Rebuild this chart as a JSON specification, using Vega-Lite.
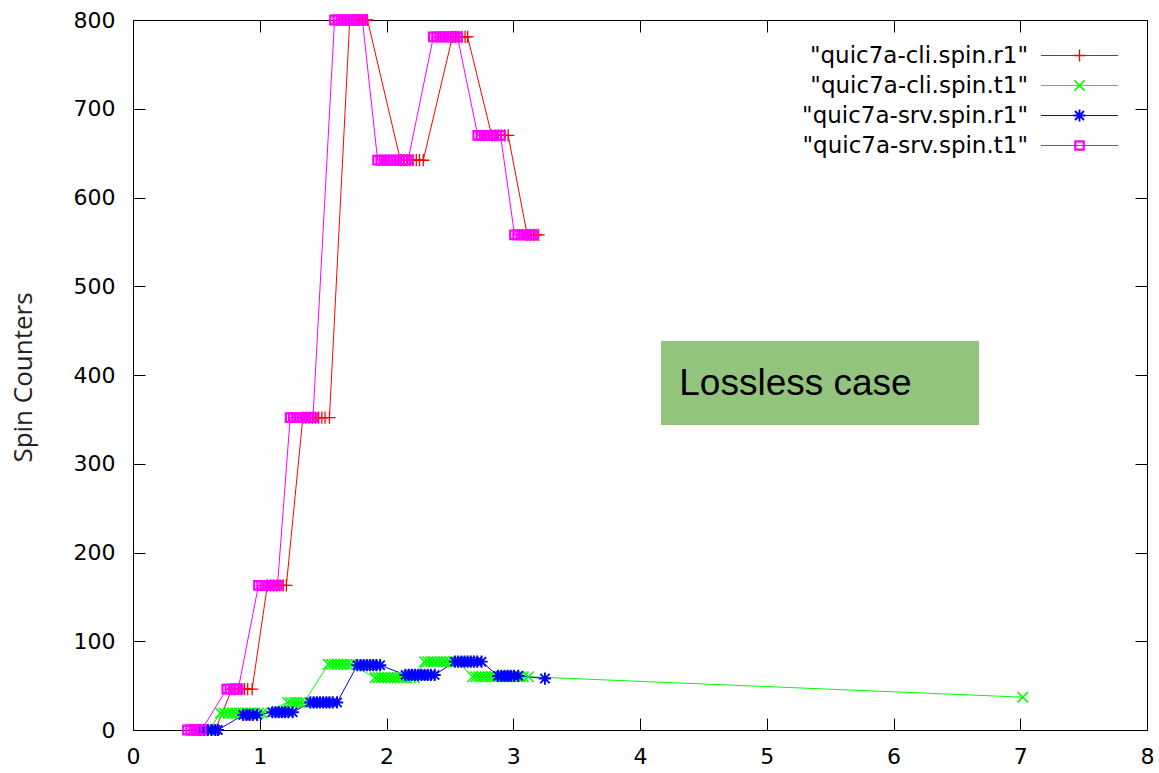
{
  "$schema": "https://vega.github.io/schema/vega-lite/v6.json",
  "autosize": "none",
  "width": 1014,
  "height": 710,
  "padding": {"left": 133, "top": 20, "right": 12, "bottom": 43},
  "background": "white",
  "datasets": {
    "note": [{"label": "Lossless case", "x0": 4.166, "x1": 6.675, "y0": 343.7, "y1": 438.3, "tx": 4.31, "ty": 377}],
    "spin": [
      {"series": "quic7a-cli.spin.r1", "x": 0.49, "y": 0},
      {"series": "quic7a-cli.spin.r1", "x": 0.515, "y": 0},
      {"series": "quic7a-cli.spin.r1", "x": 0.54, "y": 0},
      {"series": "quic7a-cli.spin.r1", "x": 0.565, "y": 0},
      {"series": "quic7a-cli.spin.r1", "x": 0.59, "y": 0},
      {"series": "quic7a-cli.spin.r1", "x": 0.615, "y": 0},
      {"series": "quic7a-cli.spin.r1", "x": 0.65, "y": 0},
      {"series": "quic7a-cli.spin.r1", "x": 0.78, "y": 46},
      {"series": "quic7a-cli.spin.r1", "x": 0.805, "y": 46},
      {"series": "quic7a-cli.spin.r1", "x": 0.83, "y": 46},
      {"series": "quic7a-cli.spin.r1", "x": 0.855, "y": 46},
      {"series": "quic7a-cli.spin.r1", "x": 0.88, "y": 46},
      {"series": "quic7a-cli.spin.r1", "x": 0.905, "y": 46},
      {"series": "quic7a-cli.spin.r1", "x": 0.94, "y": 46},
      {"series": "quic7a-cli.spin.r1", "x": 1.06, "y": 163},
      {"series": "quic7a-cli.spin.r1", "x": 1.085, "y": 163},
      {"series": "quic7a-cli.spin.r1", "x": 1.11, "y": 163},
      {"series": "quic7a-cli.spin.r1", "x": 1.135, "y": 163},
      {"series": "quic7a-cli.spin.r1", "x": 1.16, "y": 163},
      {"series": "quic7a-cli.spin.r1", "x": 1.185, "y": 163},
      {"series": "quic7a-cli.spin.r1", "x": 1.21, "y": 163},
      {"series": "quic7a-cli.spin.r1", "x": 1.34, "y": 352},
      {"series": "quic7a-cli.spin.r1", "x": 1.365, "y": 352},
      {"series": "quic7a-cli.spin.r1", "x": 1.39, "y": 352},
      {"series": "quic7a-cli.spin.r1", "x": 1.415, "y": 352},
      {"series": "quic7a-cli.spin.r1", "x": 1.44, "y": 352},
      {"series": "quic7a-cli.spin.r1", "x": 1.465, "y": 352},
      {"series": "quic7a-cli.spin.r1", "x": 1.49, "y": 352},
      {"series": "quic7a-cli.spin.r1", "x": 1.515, "y": 352},
      {"series": "quic7a-cli.spin.r1", "x": 1.55, "y": 352},
      {"series": "quic7a-cli.spin.r1", "x": 1.71, "y": 800},
      {"series": "quic7a-cli.spin.r1", "x": 1.735, "y": 800},
      {"series": "quic7a-cli.spin.r1", "x": 1.76, "y": 800},
      {"series": "quic7a-cli.spin.r1", "x": 1.785, "y": 800},
      {"series": "quic7a-cli.spin.r1", "x": 1.81, "y": 800},
      {"series": "quic7a-cli.spin.r1", "x": 1.835, "y": 800},
      {"series": "quic7a-cli.spin.r1", "x": 1.85, "y": 800},
      {"series": "quic7a-cli.spin.r1", "x": 2.11, "y": 642},
      {"series": "quic7a-cli.spin.r1", "x": 2.135, "y": 642},
      {"series": "quic7a-cli.spin.r1", "x": 2.16, "y": 642},
      {"series": "quic7a-cli.spin.r1", "x": 2.185, "y": 642},
      {"series": "quic7a-cli.spin.r1", "x": 2.21, "y": 642},
      {"series": "quic7a-cli.spin.r1", "x": 2.235, "y": 642},
      {"series": "quic7a-cli.spin.r1", "x": 2.26, "y": 642},
      {"series": "quic7a-cli.spin.r1", "x": 2.29, "y": 642},
      {"series": "quic7a-cli.spin.r1", "x": 2.52, "y": 781},
      {"series": "quic7a-cli.spin.r1", "x": 2.545, "y": 781},
      {"series": "quic7a-cli.spin.r1", "x": 2.57, "y": 781},
      {"series": "quic7a-cli.spin.r1", "x": 2.595, "y": 781},
      {"series": "quic7a-cli.spin.r1", "x": 2.62, "y": 781},
      {"series": "quic7a-cli.spin.r1", "x": 2.64, "y": 781},
      {"series": "quic7a-cli.spin.r1", "x": 2.83, "y": 670},
      {"series": "quic7a-cli.spin.r1", "x": 2.855, "y": 670},
      {"series": "quic7a-cli.spin.r1", "x": 2.88, "y": 670},
      {"series": "quic7a-cli.spin.r1", "x": 2.905, "y": 670},
      {"series": "quic7a-cli.spin.r1", "x": 2.93, "y": 670},
      {"series": "quic7a-cli.spin.r1", "x": 2.96, "y": 670},
      {"series": "quic7a-cli.spin.r1", "x": 3.11, "y": 558},
      {"series": "quic7a-cli.spin.r1", "x": 3.135, "y": 558},
      {"series": "quic7a-cli.spin.r1", "x": 3.16, "y": 558},
      {"series": "quic7a-cli.spin.r1", "x": 3.18, "y": 558},
      {"series": "quic7a-cli.spin.r1", "x": 3.2, "y": 558},

      {"series": "quic7a-cli.spin.t1", "x": 0.55, "y": 0},
      {"series": "quic7a-cli.spin.t1", "x": 0.575, "y": 0},
      {"series": "quic7a-cli.spin.t1", "x": 0.6, "y": 0},
      {"series": "quic7a-cli.spin.t1", "x": 0.69, "y": 19},
      {"series": "quic7a-cli.spin.t1", "x": 0.72, "y": 19},
      {"series": "quic7a-cli.spin.t1", "x": 0.75, "y": 19},
      {"series": "quic7a-cli.spin.t1", "x": 0.78, "y": 19},
      {"series": "quic7a-cli.spin.t1", "x": 0.81, "y": 19},
      {"series": "quic7a-cli.spin.t1", "x": 0.84, "y": 19},
      {"series": "quic7a-cli.spin.t1", "x": 0.87, "y": 19},
      {"series": "quic7a-cli.spin.t1", "x": 0.9, "y": 19},
      {"series": "quic7a-cli.spin.t1", "x": 0.93, "y": 19},
      {"series": "quic7a-cli.spin.t1", "x": 0.96, "y": 19},
      {"series": "quic7a-cli.spin.t1", "x": 0.99, "y": 19},
      {"series": "quic7a-cli.spin.t1", "x": 1.02, "y": 19},
      {"series": "quic7a-cli.spin.t1", "x": 1.22, "y": 31},
      {"series": "quic7a-cli.spin.t1", "x": 1.245, "y": 31},
      {"series": "quic7a-cli.spin.t1", "x": 1.27, "y": 31},
      {"series": "quic7a-cli.spin.t1", "x": 1.295, "y": 31},
      {"series": "quic7a-cli.spin.t1", "x": 1.32, "y": 31},
      {"series": "quic7a-cli.spin.t1", "x": 1.35, "y": 31},
      {"series": "quic7a-cli.spin.t1", "x": 1.54, "y": 74},
      {"series": "quic7a-cli.spin.t1", "x": 1.565, "y": 74},
      {"series": "quic7a-cli.spin.t1", "x": 1.59, "y": 74},
      {"series": "quic7a-cli.spin.t1", "x": 1.615, "y": 74},
      {"series": "quic7a-cli.spin.t1", "x": 1.64, "y": 74},
      {"series": "quic7a-cli.spin.t1", "x": 1.665, "y": 74},
      {"series": "quic7a-cli.spin.t1", "x": 1.69, "y": 74},
      {"series": "quic7a-cli.spin.t1", "x": 1.72, "y": 74},
      {"series": "quic7a-cli.spin.t1", "x": 1.91, "y": 59},
      {"series": "quic7a-cli.spin.t1", "x": 1.935, "y": 59},
      {"series": "quic7a-cli.spin.t1", "x": 1.96, "y": 59},
      {"series": "quic7a-cli.spin.t1", "x": 1.985, "y": 59},
      {"series": "quic7a-cli.spin.t1", "x": 2.01, "y": 59},
      {"series": "quic7a-cli.spin.t1", "x": 2.035, "y": 59},
      {"series": "quic7a-cli.spin.t1", "x": 2.06, "y": 59},
      {"series": "quic7a-cli.spin.t1", "x": 2.085, "y": 59},
      {"series": "quic7a-cli.spin.t1", "x": 2.11, "y": 59},
      {"series": "quic7a-cli.spin.t1", "x": 2.135, "y": 59},
      {"series": "quic7a-cli.spin.t1", "x": 2.16, "y": 59},
      {"series": "quic7a-cli.spin.t1", "x": 2.19, "y": 59},
      {"series": "quic7a-cli.spin.t1", "x": 2.22, "y": 59},
      {"series": "quic7a-cli.spin.t1", "x": 2.3, "y": 77},
      {"series": "quic7a-cli.spin.t1", "x": 2.325, "y": 77},
      {"series": "quic7a-cli.spin.t1", "x": 2.35, "y": 77},
      {"series": "quic7a-cli.spin.t1", "x": 2.375, "y": 77},
      {"series": "quic7a-cli.spin.t1", "x": 2.4, "y": 77},
      {"series": "quic7a-cli.spin.t1", "x": 2.425, "y": 77},
      {"series": "quic7a-cli.spin.t1", "x": 2.45, "y": 77},
      {"series": "quic7a-cli.spin.t1", "x": 2.475, "y": 77},
      {"series": "quic7a-cli.spin.t1", "x": 2.5, "y": 77},
      {"series": "quic7a-cli.spin.t1", "x": 2.53, "y": 77},
      {"series": "quic7a-cli.spin.t1", "x": 2.56, "y": 77},
      {"series": "quic7a-cli.spin.t1", "x": 2.68, "y": 60},
      {"series": "quic7a-cli.spin.t1", "x": 2.705, "y": 60},
      {"series": "quic7a-cli.spin.t1", "x": 2.73, "y": 60},
      {"series": "quic7a-cli.spin.t1", "x": 2.755, "y": 60},
      {"series": "quic7a-cli.spin.t1", "x": 2.78, "y": 60},
      {"series": "quic7a-cli.spin.t1", "x": 2.805, "y": 60},
      {"series": "quic7a-cli.spin.t1", "x": 2.83, "y": 60},
      {"series": "quic7a-cli.spin.t1", "x": 2.855, "y": 60},
      {"series": "quic7a-cli.spin.t1", "x": 2.88, "y": 60},
      {"series": "quic7a-cli.spin.t1", "x": 2.905, "y": 60},
      {"series": "quic7a-cli.spin.t1", "x": 2.93, "y": 60},
      {"series": "quic7a-cli.spin.t1", "x": 2.955, "y": 60},
      {"series": "quic7a-cli.spin.t1", "x": 2.98, "y": 60},
      {"series": "quic7a-cli.spin.t1", "x": 3.005, "y": 60},
      {"series": "quic7a-cli.spin.t1", "x": 3.03, "y": 60},
      {"series": "quic7a-cli.spin.t1", "x": 3.055, "y": 60},
      {"series": "quic7a-cli.spin.t1", "x": 3.08, "y": 60},
      {"series": "quic7a-cli.spin.t1", "x": 3.12, "y": 60},
      {"series": "quic7a-cli.spin.t1", "x": 7.02, "y": 37},

      {"series": "quic7a-srv.spin.r1", "x": 0.53, "y": 0},
      {"series": "quic7a-srv.spin.r1", "x": 0.56, "y": 0},
      {"series": "quic7a-srv.spin.r1", "x": 0.59, "y": 0},
      {"series": "quic7a-srv.spin.r1", "x": 0.62, "y": 0},
      {"series": "quic7a-srv.spin.r1", "x": 0.65, "y": 0},
      {"series": "quic7a-srv.spin.r1", "x": 0.67, "y": 0},
      {"series": "quic7a-srv.spin.r1", "x": 0.87, "y": 17},
      {"series": "quic7a-srv.spin.r1", "x": 0.895, "y": 17},
      {"series": "quic7a-srv.spin.r1", "x": 0.92, "y": 17},
      {"series": "quic7a-srv.spin.r1", "x": 0.945, "y": 17},
      {"series": "quic7a-srv.spin.r1", "x": 0.98, "y": 17},
      {"series": "quic7a-srv.spin.r1", "x": 1.1, "y": 20},
      {"series": "quic7a-srv.spin.r1", "x": 1.125, "y": 20},
      {"series": "quic7a-srv.spin.r1", "x": 1.15, "y": 20},
      {"series": "quic7a-srv.spin.r1", "x": 1.175, "y": 20},
      {"series": "quic7a-srv.spin.r1", "x": 1.2, "y": 20},
      {"series": "quic7a-srv.spin.r1", "x": 1.225, "y": 20},
      {"series": "quic7a-srv.spin.r1", "x": 1.26, "y": 20},
      {"series": "quic7a-srv.spin.r1", "x": 1.4, "y": 31},
      {"series": "quic7a-srv.spin.r1", "x": 1.425, "y": 31},
      {"series": "quic7a-srv.spin.r1", "x": 1.45, "y": 31},
      {"series": "quic7a-srv.spin.r1", "x": 1.475, "y": 31},
      {"series": "quic7a-srv.spin.r1", "x": 1.5, "y": 31},
      {"series": "quic7a-srv.spin.r1", "x": 1.525, "y": 31},
      {"series": "quic7a-srv.spin.r1", "x": 1.55, "y": 31},
      {"series": "quic7a-srv.spin.r1", "x": 1.575, "y": 31},
      {"series": "quic7a-srv.spin.r1", "x": 1.61, "y": 31},
      {"series": "quic7a-srv.spin.r1", "x": 1.77, "y": 73},
      {"series": "quic7a-srv.spin.r1", "x": 1.795, "y": 73},
      {"series": "quic7a-srv.spin.r1", "x": 1.82, "y": 73},
      {"series": "quic7a-srv.spin.r1", "x": 1.845, "y": 73},
      {"series": "quic7a-srv.spin.r1", "x": 1.87, "y": 73},
      {"series": "quic7a-srv.spin.r1", "x": 1.895, "y": 73},
      {"series": "quic7a-srv.spin.r1", "x": 1.92, "y": 73},
      {"series": "quic7a-srv.spin.r1", "x": 1.95, "y": 73},
      {"series": "quic7a-srv.spin.r1", "x": 2.15, "y": 62},
      {"series": "quic7a-srv.spin.r1", "x": 2.175, "y": 62},
      {"series": "quic7a-srv.spin.r1", "x": 2.2, "y": 62},
      {"series": "quic7a-srv.spin.r1", "x": 2.225, "y": 62},
      {"series": "quic7a-srv.spin.r1", "x": 2.25, "y": 62},
      {"series": "quic7a-srv.spin.r1", "x": 2.275, "y": 62},
      {"series": "quic7a-srv.spin.r1", "x": 2.3, "y": 62},
      {"series": "quic7a-srv.spin.r1", "x": 2.325, "y": 62},
      {"series": "quic7a-srv.spin.r1", "x": 2.35, "y": 62},
      {"series": "quic7a-srv.spin.r1", "x": 2.38, "y": 62},
      {"series": "quic7a-srv.spin.r1", "x": 2.54, "y": 77},
      {"series": "quic7a-srv.spin.r1", "x": 2.565, "y": 77},
      {"series": "quic7a-srv.spin.r1", "x": 2.59, "y": 77},
      {"series": "quic7a-srv.spin.r1", "x": 2.615, "y": 77},
      {"series": "quic7a-srv.spin.r1", "x": 2.64, "y": 77},
      {"series": "quic7a-srv.spin.r1", "x": 2.665, "y": 77},
      {"series": "quic7a-srv.spin.r1", "x": 2.69, "y": 77},
      {"series": "quic7a-srv.spin.r1", "x": 2.715, "y": 77},
      {"series": "quic7a-srv.spin.r1", "x": 2.75, "y": 77},
      {"series": "quic7a-srv.spin.r1", "x": 2.88, "y": 61},
      {"series": "quic7a-srv.spin.r1", "x": 2.905, "y": 61},
      {"series": "quic7a-srv.spin.r1", "x": 2.93, "y": 61},
      {"series": "quic7a-srv.spin.r1", "x": 2.955, "y": 61},
      {"series": "quic7a-srv.spin.r1", "x": 2.98, "y": 61},
      {"series": "quic7a-srv.spin.r1", "x": 3.005, "y": 61},
      {"series": "quic7a-srv.spin.r1", "x": 3.04, "y": 61},
      {"series": "quic7a-srv.spin.r1", "x": 3.25, "y": 58},

      {"series": "quic7a-srv.spin.t1", "x": 0.43, "y": 0},
      {"series": "quic7a-srv.spin.t1", "x": 0.455, "y": 0},
      {"series": "quic7a-srv.spin.t1", "x": 0.48, "y": 0},
      {"series": "quic7a-srv.spin.t1", "x": 0.505, "y": 0},
      {"series": "quic7a-srv.spin.t1", "x": 0.54, "y": 0},
      {"series": "quic7a-srv.spin.t1", "x": 0.74, "y": 46},
      {"series": "quic7a-srv.spin.t1", "x": 0.765, "y": 46},
      {"series": "quic7a-srv.spin.t1", "x": 0.79, "y": 46},
      {"series": "quic7a-srv.spin.t1", "x": 0.81, "y": 46},
      {"series": "quic7a-srv.spin.t1", "x": 0.83, "y": 46},
      {"series": "quic7a-srv.spin.t1", "x": 0.99, "y": 163},
      {"series": "quic7a-srv.spin.t1", "x": 1.015, "y": 163},
      {"series": "quic7a-srv.spin.t1", "x": 1.04, "y": 163},
      {"series": "quic7a-srv.spin.t1", "x": 1.065, "y": 163},
      {"series": "quic7a-srv.spin.t1", "x": 1.09, "y": 163},
      {"series": "quic7a-srv.spin.t1", "x": 1.115, "y": 163},
      {"series": "quic7a-srv.spin.t1", "x": 1.14, "y": 163},
      {"series": "quic7a-srv.spin.t1", "x": 1.24, "y": 352},
      {"series": "quic7a-srv.spin.t1", "x": 1.265, "y": 352},
      {"series": "quic7a-srv.spin.t1", "x": 1.29, "y": 352},
      {"series": "quic7a-srv.spin.t1", "x": 1.315, "y": 352},
      {"series": "quic7a-srv.spin.t1", "x": 1.34, "y": 352},
      {"series": "quic7a-srv.spin.t1", "x": 1.365, "y": 352},
      {"series": "quic7a-srv.spin.t1", "x": 1.39, "y": 352},
      {"series": "quic7a-srv.spin.t1", "x": 1.42, "y": 352},
      {"series": "quic7a-srv.spin.t1", "x": 1.59, "y": 800},
      {"series": "quic7a-srv.spin.t1", "x": 1.615, "y": 800},
      {"series": "quic7a-srv.spin.t1", "x": 1.64, "y": 800},
      {"series": "quic7a-srv.spin.t1", "x": 1.665, "y": 800},
      {"series": "quic7a-srv.spin.t1", "x": 1.69, "y": 800},
      {"series": "quic7a-srv.spin.t1", "x": 1.715, "y": 800},
      {"series": "quic7a-srv.spin.t1", "x": 1.74, "y": 800},
      {"series": "quic7a-srv.spin.t1", "x": 1.765, "y": 800},
      {"series": "quic7a-srv.spin.t1", "x": 1.79, "y": 800},
      {"series": "quic7a-srv.spin.t1", "x": 1.81, "y": 800},
      {"series": "quic7a-srv.spin.t1", "x": 1.93, "y": 642},
      {"series": "quic7a-srv.spin.t1", "x": 1.955, "y": 642},
      {"series": "quic7a-srv.spin.t1", "x": 1.98, "y": 642},
      {"series": "quic7a-srv.spin.t1", "x": 2.005, "y": 642},
      {"series": "quic7a-srv.spin.t1", "x": 2.03, "y": 642},
      {"series": "quic7a-srv.spin.t1", "x": 2.055, "y": 642},
      {"series": "quic7a-srv.spin.t1", "x": 2.08, "y": 642},
      {"series": "quic7a-srv.spin.t1", "x": 2.105, "y": 642},
      {"series": "quic7a-srv.spin.t1", "x": 2.13, "y": 642},
      {"series": "quic7a-srv.spin.t1", "x": 2.15, "y": 642},
      {"series": "quic7a-srv.spin.t1", "x": 2.17, "y": 642},
      {"series": "quic7a-srv.spin.t1", "x": 2.37, "y": 781},
      {"series": "quic7a-srv.spin.t1", "x": 2.395, "y": 781},
      {"series": "quic7a-srv.spin.t1", "x": 2.42, "y": 781},
      {"series": "quic7a-srv.spin.t1", "x": 2.445, "y": 781},
      {"series": "quic7a-srv.spin.t1", "x": 2.47, "y": 781},
      {"series": "quic7a-srv.spin.t1", "x": 2.495, "y": 781},
      {"series": "quic7a-srv.spin.t1", "x": 2.52, "y": 781},
      {"series": "quic7a-srv.spin.t1", "x": 2.54, "y": 781},
      {"series": "quic7a-srv.spin.t1", "x": 2.56, "y": 781},
      {"series": "quic7a-srv.spin.t1", "x": 2.72, "y": 670},
      {"series": "quic7a-srv.spin.t1", "x": 2.745, "y": 670},
      {"series": "quic7a-srv.spin.t1", "x": 2.77, "y": 670},
      {"series": "quic7a-srv.spin.t1", "x": 2.795, "y": 670},
      {"series": "quic7a-srv.spin.t1", "x": 2.82, "y": 670},
      {"series": "quic7a-srv.spin.t1", "x": 2.845, "y": 670},
      {"series": "quic7a-srv.spin.t1", "x": 2.87, "y": 670},
      {"series": "quic7a-srv.spin.t1", "x": 2.9, "y": 670},
      {"series": "quic7a-srv.spin.t1", "x": 3.01, "y": 558},
      {"series": "quic7a-srv.spin.t1", "x": 3.035, "y": 558},
      {"series": "quic7a-srv.spin.t1", "x": 3.06, "y": 558},
      {"series": "quic7a-srv.spin.t1", "x": 3.085, "y": 558},
      {"series": "quic7a-srv.spin.t1", "x": 3.11, "y": 558},
      {"series": "quic7a-srv.spin.t1", "x": 3.135, "y": 558},
      {"series": "quic7a-srv.spin.t1", "x": 3.16, "y": 558}
    ]
  },
  "layer": [
    {
      "data": {"name": "note"},
      "mark": {"type": "rect", "color": "#93c47d"},
      "encoding": {
        "x": {"field": "x0", "type": "quantitative", "scale": {"domain": [0, 8], "nice": false}, "axis": null},
        "x2": {"field": "x1"},
        "y": {"field": "y0", "type": "quantitative", "scale": {"domain": [0, 800], "nice": false}, "axis": null},
        "y2": {"field": "y1"}
      }
    },
    {
      "data": {"name": "note"},
      "mark": {"type": "text", "align": "left", "baseline": "alphabetic", "font": "Liberation Sans", "fontSize": 37, "color": "black"},
      "encoding": {
        "x": {"field": "tx", "type": "quantitative", "scale": {"domain": [0, 8], "nice": false}, "axis": null},
        "y": {"field": "ty", "type": "quantitative", "scale": {"domain": [0, 800], "nice": false}, "axis": null},
        "text": {"field": "label"}
      }
    },
    {
      "data": {"name": "spin"},
      "mark": {"type": "line", "strokeWidth": 1},
      "encoding": {
        "x": {"field": "x", "type": "quantitative", "scale": {"domain": [0, 8], "nice": false},
              "axis": {"orient": "bottom", "values": [0, 1, 2, 3, 4, 5, 6, 7, 8], "title": null, "labelPadding": 28, "labelFlush": false}},
        "y": {"field": "y", "type": "quantitative", "scale": {"domain": [0, 800], "nice": false},
              "axis": {"orient": "left", "values": [0, 100, 200, 300, 400, 500, 600, 700, 800], "title": "Spin Counters", "labelPadding": 30, "labelFlush": false,
                       "titleFont": "Open Sans", "titleFontSize": 26, "titleFontWeight": "normal", "titleColor": "#222222",
                       "titleX": -110, "titleY": 357, "titleAngle": 270, "titleAlign": "center", "titleBaseline": "middle"}},
        "color": {"field": "series", "type": "nominal",
                  "scale": {"domain": ["quic7a-cli.spin.r1", "quic7a-cli.spin.t1", "quic7a-srv.spin.r1", "quic7a-srv.spin.t1"],
                            "range": ["#ff0000", "#00ff00", "#0000ff", "#ff00ff"]},
                  "legend": {"title": null, "symbolType": "M-6.4,0L6.4,0", "labelOpacity": 0,
                             "labelExpr": "'\"' + datum.label + '\"'"}}
      }
    },
    {
      "data": {"name": "spin"},
      "mark": {"type": "point", "filled": false, "size": 150, "opacity": 1},
      "encoding": {
        "x": {"field": "x", "type": "quantitative", "scale": {"domain": [0, 8], "nice": false},
              "axis": {"orient": "top", "values": [0, 1, 2, 3, 4, 5, 6, 7, 8], "title": null, "labels": false}},
        "y": {"field": "y", "type": "quantitative", "scale": {"domain": [0, 800], "nice": false},
              "axis": {"orient": "right", "values": [0, 100, 200, 300, 400, 500, 600, 700, 800], "title": null, "labels": false}},
        "color": {"field": "series", "type": "nominal",
                  "scale": {"domain": ["quic7a-cli.spin.r1", "quic7a-cli.spin.t1", "quic7a-srv.spin.r1", "quic7a-srv.spin.t1"],
                            "range": ["#ff0000", "#00ff00", "#0000ff", "#ff00ff"]},
                  "legend": {"title": null, "symbolStrokeWidth": 1, "labelExpr": "'\"' + datum.label + '\"'"}},
        "shape": {"field": "series", "type": "nominal",
                  "scale": {"domain": ["quic7a-cli.spin.r1", "quic7a-cli.spin.t1", "quic7a-srv.spin.r1", "quic7a-srv.spin.t1"],
                            "range": ["M-1,0L1,0M0,-1L0,1", "M-0.85,-0.85L0.85,0.85M-0.85,0.85L0.85,-0.85", "M-1,0L1,0M0,-1L0,1M-0.75,-0.75L0.75,0.75M-0.75,0.75L0.75,-0.75",
                                      "M-0.7,-0.7L0.7,-0.7L0.7,0.7L-0.7,0.7Z"]},
                  "legend": {"title": null, "symbolStrokeWidth": 1, "labelExpr": "'\"' + datum.label + '\"'"}},
        "strokeWidth": {"field": "series", "type": "nominal",
                        "scale": {"domain": ["quic7a-cli.spin.r1", "quic7a-cli.spin.t1", "quic7a-srv.spin.r1", "quic7a-srv.spin.t1"],
                                  "range": [1.3, 2.2, 2.2, 4]},
                        "legend": null}
      }
    }
  ],
  "resolve": {"axis": {"x": "independent", "y": "independent"}, "scale": {"shape": "independent", "color": "independent", "strokeWidth": "independent"}},
  "config": {
    "view": {"stroke": "black", "strokeWidth": 1},
    "axis": {"domain": false, "grid": false, "tickColor": "black", "tickWidth": 1, "tickSize": -12,
             "labelFont": "DejaVu Sans", "labelFontSize": 22, "labelColor": "black", "labelOverlap": false},
    "legend": {"orient": "none", "legendX": 935, "legendY": 24, "labelAlign": "right", "labelOffset": -63,
               "labelFont": "DejaVu Sans", "labelFontSize": 23, "labelColor": "black", "labelLimit": 400,
               "symbolSize": 144, "symbolStrokeWidth": 1, "rowPadding": 6, "padding": 0}
  }
}
